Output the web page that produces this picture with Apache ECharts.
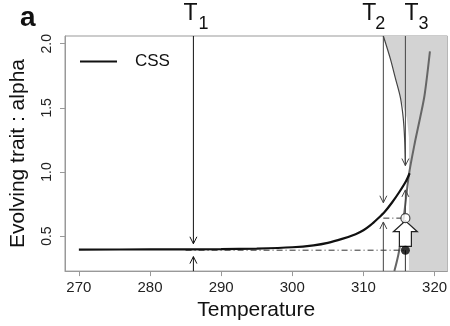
<!DOCTYPE html>
<html>
<head>
<meta charset="utf-8">
<script src="https://cdn.jsdelivr.net/npm/echarts@6/dist/echarts.min.js"></script>
<style>
html, body { margin: 0; padding: 0; background: #fff; }
#main { width: 450px; height: 326px; }
</style>
</head>
<body>
<div id="main"></div>
<script>
// CSS curve (temperature, alpha)
var cssT     = [270, 280, 290, 295, 300, 303, 305, 307, 308.9, 310, 311, 312, 313, 314, 315, 316, 316.5];
var cssAlpha = [0.395, 0.396, 0.398, 0.403, 0.413, 0.428, 0.447, 0.478, 0.515, 0.545, 0.585, 0.635, 0.69, 0.76, 0.84, 0.93, 0.99];

// steep grey curve on the right
var greyT     = [314.35, 315.0, 315.7, 316.4, 317.2, 318.0, 318.6, 319.35];
var greyAlpha = [0.227, 0.38, 0.66, 0.98, 1.22, 1.43, 1.6, 1.94];

// left edge of the shaded region (top to bottom)
var shadeT     = [312.8, 313.8, 314.5, 315.2, 316.1, 316.4, 316.4];
var shadeAlpha = [2.06, 1.88, 1.73, 1.58, 1.42, 1.27, 0.227];

// curved trajectory from T2 down to T3
var pathT     = [312.8, 313.8, 314.5, 315.2, 315.6, 315.8, 315.9];
var pathAlpha = [2.06, 1.88, 1.73, 1.58, 1.42, 1.25, 1.05];

// temperature markers
var markerT    = [286.1, 312.8, 315.9];
var markerSubs = ['1', '2', '3'];

// arrows: [temperature, from alpha, to alpha]
var arrows = [
    [286.1, 2.06, 0.44], [286.1, 0.227, 0.34],
    [312.8, 2.06, 0.76], [312.8, 0.227, 0.61],
    [315.9, 2.06, 1.05], [315.9, 0.68, 0.86]
];
// plain segments: [t0, a0, t1, a1]
var plainLines = [[315.9, 0.227, 315.9, 0.39]];
var dashLines  = [[312.8, 0.64, 315.9, 0.64], [285, 0.39, 315.9, 0.39]];

var openPoint   = [[315.9, 0.64]];
var filledPoint = [[315.9, 0.39]];
var blockArrow  = [[315.9, 0.42, 0.62]];

var xTicks = [270, 280, 290, 300, 310, 320];
var yTicks = [0.5, 1.0, 1.5, 2.0];

var xMin = 268.05, xMax = 321.8, yMin = 0.227, yMax = 2.06;
var FONT = "'Liberation Sans', Arial, sans-serif";

function zip(a, b) {
    return a.map(function (v, i) { return [v, b[i]]; });
}

var chart = echarts.init(document.getElementById('main'));

var option = {
    animation: false,
    textStyle: { fontFamily: FONT },
    grid: {
        left: 63, right: 0, top: 36, bottom: 48,
        show: true, borderColor: '#999', borderWidth: 1
    },
    legend: {
        data: ['CSS'],
        left: 80, top: 53, padding: 0,
        icon: 'rect', itemWidth: 37, itemHeight: 2,
        textStyle: { fontSize: 17, color: '#111', padding: [0, 0, 0, 13] }
    },
    graphic: [{
        type: 'text', left: 20, top: 4,
        style: { text: 'a', font: 'bold 28px ' + FONT, fill: '#111' }
    }],
    xAxis: {
        type: 'value', min: xMin, max: xMax,
        name: 'Temperature', nameLocation: 'middle', nameGap: 27,
        nameTextStyle: { fontSize: 21, color: '#111' },
        axisLine: { show: true, lineStyle: { color: '#999' } },
        axisTick: { show: true, length: 5, customValues: xTicks, lineStyle: { color: '#999' } },
        axisLabel: { customValues: xTicks, fontSize: 15, color: '#222', margin: 9 },
        splitLine: { show: false }
    },
    yAxis: {
        type: 'value', min: yMin, max: yMax,
        name: 'Evolving trait : alpha', nameLocation: 'middle', nameGap: 36,
        nameTextStyle: { fontSize: 21, color: '#111' },
        axisLine: { show: true, lineStyle: { color: '#999' } },
        axisTick: { show: true, length: 5, customValues: yTicks, lineStyle: { color: '#999' } },
        axisLabel: {
            customValues: yTicks, fontSize: 14, color: '#222', margin: 11, rotate: 90,
            formatter: function (v) { return v.toFixed(1); }
        },
        splitLine: { show: false }
    },
    series: [
        {
            // shaded region
            type: 'custom', silent: true, z: 1,
            data: [0],
            renderItem: function (params, api) {
                var pts = zip(shadeT, shadeAlpha).map(function (p) { return api.coord(p); });
                pts.push(api.coord([xMax, yMin]));
                pts.push(api.coord([xMax, yMax]));
                return { type: 'polygon', shape: { points: pts }, style: { fill: '#d3d3d3' } };
            }
        },
        {
            name: 'grey', type: 'line', data: zip(greyT, greyAlpha), smooth: 0.3,
            showSymbol: false, silent: true, z: 2,
            lineStyle: { color: '#666', width: 2 }
        },
        {
            name: 'path', type: 'line', data: zip(pathT, pathAlpha), smooth: 0.3,
            showSymbol: false, silent: true, z: 3,
            lineStyle: { color: '#444', width: 1.2 }
        },
        {
            // dash-dot guide lines and plain segments
            type: 'custom', silent: true, z: 3,
            data: dashLines.map(function (d) { return d.concat([1]); })
                .concat(plainLines.map(function (d) { return d.concat([0]); })),
            renderItem: function (params, api) {
                var p0 = api.coord([api.value(0), api.value(1)]);
                var p1 = api.coord([api.value(2), api.value(3)]);
                return {
                    type: 'line',
                    shape: { x1: p0[0], y1: p0[1], x2: p1[0], y2: p1[1] },
                    style: {
                        stroke: '#333', lineWidth: 1,
                        lineDash: api.value(4) ? [6, 3, 1, 3] : null
                    }
                };
            }
        },
        {
            name: 'CSS', type: 'line', data: zip(cssT, cssAlpha), smooth: 0.3,
            showSymbol: false, silent: true, z: 4,
            color: '#111',
            lineStyle: { color: '#111', width: 2.2 }
        },
        {
            // vertical arrows with open heads
            type: 'custom', silent: true, z: 5,
            data: arrows,
            renderItem: function (params, api) {
                var p0 = api.coord([api.value(0), api.value(1)]);
                var p1 = api.coord([api.value(0), api.value(2)]);
                var dir = p1[1] > p0[1] ? 1 : -1;
                var col = api.value(0) < 300 ? '#111' : '#444';
                return {
                    type: 'group',
                    children: [{
                        type: 'line',
                        shape: { x1: p0[0], y1: p0[1], x2: p1[0], y2: p1[1] },
                        style: { stroke: col, lineWidth: 1 }
                    }, {
                        type: 'polyline',
                        shape: { points: [[p1[0] - 3.5, p1[1] - dir * 7], p1, [p1[0] + 3.5, p1[1] - dir * 7]] },
                        style: { stroke: col, lineWidth: 1, fill: null }
                    }]
                };
            }
        },
        {
            // big hollow arrow
            type: 'custom', silent: true, z: 6,
            data: blockArrow,
            renderItem: function (params, api) {
                var b = api.coord([api.value(0), api.value(1)]);
                var t = api.coord([api.value(0), api.value(2)]);
                var x = b[0], hb = t[1] + 11;
                return {
                    type: 'polygon',
                    shape: { points: [
                        [x - 6, b[1]], [x - 6, hb], [x - 12, hb], [x, t[1]],
                        [x + 12, hb], [x + 6, hb], [x + 6, b[1]]
                    ] },
                    style: { fill: '#fff', stroke: '#222', lineWidth: 1.2 }
                };
            }
        },
        {
            type: 'scatter', data: openPoint, symbol: 'circle', symbolSize: 9,
            silent: true, z: 7,
            itemStyle: { color: '#fff', borderColor: '#222', borderWidth: 1.2 }
        },
        {
            type: 'scatter', data: filledPoint, symbol: 'circle', symbolSize: 9,
            silent: true, z: 7,
            itemStyle: { color: '#000' }
        },
        {
            // T labels above the plot
            type: 'custom', silent: true, z: 8, clip: false,
            data: markerT.map(function (t, i) { return [t, i]; }),
            renderItem: function (params, api) {
                var i = api.value(1);
                var p = api.coord([api.value(0), yMax]);
                var tOff = [-10, -21, -1][i];
                var sOff = [5, -8, 13][i];
                return {
                    type: 'group',
                    children: [{
                        type: 'text',
                        style: { text: 'T', x: p[0] + tOff, y: 25, font: '23px ' + FONT,
                                 fill: '#111', verticalAlign: 'bottom' }
                    }, {
                        type: 'text',
                        style: { text: markerSubs[i], x: p[0] + sOff, y: 33, font: '18px ' + FONT,
                                 fill: '#111', verticalAlign: 'bottom' }
                    }]
                };
            }
        }
    ]
};

chart.setOption(option);
</script>
</body>
</html>
